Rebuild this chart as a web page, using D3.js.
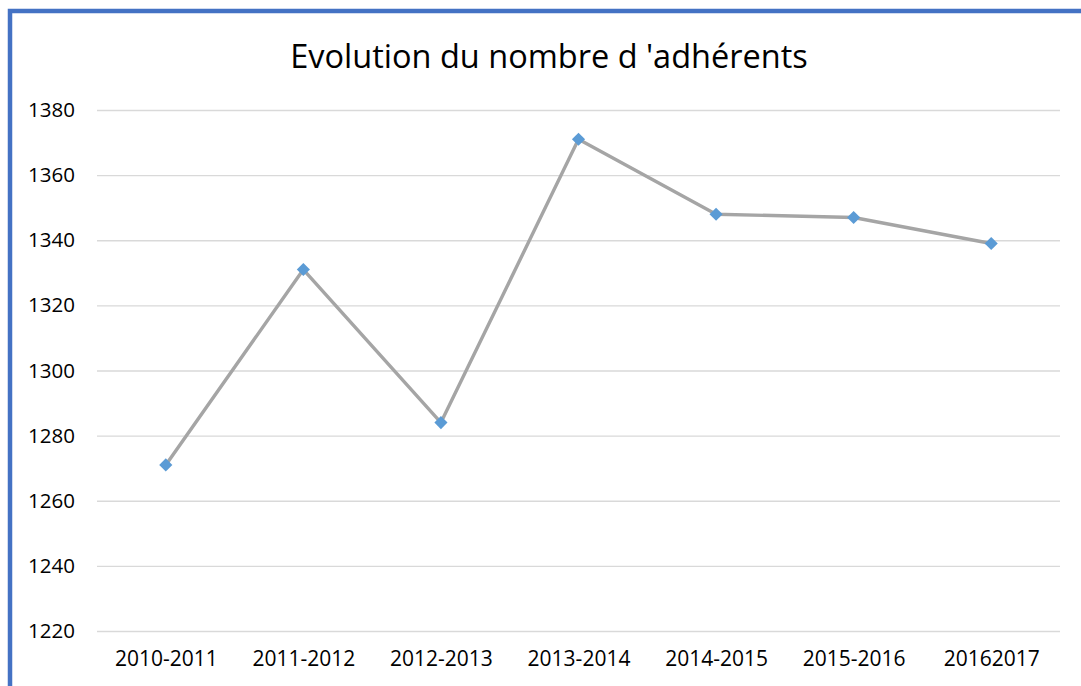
<!DOCTYPE html>
<html>
<head>
<meta charset="utf-8">
<script src="https://cdn.jsdelivr.net/npm/d3@7"></script>
<style>
  body { margin: 0; background: #fff; }
  svg { display: block; }
</style>
</head>
<body>
<svg id="chart" width="1081" height="686"></svg>
<script>
// data
var seasons = ['2010-2011', '2011-2012', '2012-2013', '2013-2014', '2014-2015', '2015-2016', '20162017'];
var members = [1271, 1331, 1284, 1371, 1348, 1347, 1339];
var yTicks = [1220, 1240, 1260, 1280, 1300, 1320, 1340, 1360, 1380];

let svg = d3.select("#chart");
let font = "'Open Sans', sans-serif";

let margin = { top: 110, right: 21, bottom: 55, left: 97 };
let plotWidth = 1081 - margin.left - margin.right;
let plotHeight = 686 - margin.top - margin.bottom;

// frame (blue border top + left)
svg.append("rect")
  .attr("x", 10).attr("y", 11)
  .attr("width", 1100).attr("height", 700)
  .attr("fill", "none")
  .attr("stroke", "#4472c4")
  .attr("stroke-width", 4.5);

let yScale = d3.scaleLinear()
  .domain([1220, 1380])
  .range([plotHeight, 0]);

let xScale = d3.scalePoint()
  .domain(seasons)
  .range([0, plotWidth])
  .padding(0.5);

let plot = svg.append("g")
  .attr("transform", "translate(" + margin.left + "," + margin.top + ")");

// gridlines
plot.append("g")
  .call(d3.axisLeft(yScale).tickValues(yTicks).tickSize(-plotWidth).tickFormat(""))
  .call(g => g.select(".domain").remove())
  .selectAll("line")
  .attr("stroke", "#d9d9d9")
  .attr("stroke-width", 1.3);

// y labels
let yAxis = plot.append("g")
  .call(d3.axisLeft(yScale).tickValues(yTicks).tickSize(0).tickPadding(22).tickFormat(d3.format("d")));
yAxis.select(".domain").remove();
yAxis.selectAll("text")
  .style("font-family", font)
  .style("font-size", "20.5px")
  .attr("fill", "#000");

// x labels
let xAxis = plot.append("g")
  .attr("transform", "translate(0," + plotHeight + ")")
  .call(d3.axisBottom(xScale).tickSize(0).tickPadding(20));
xAxis.select(".domain").remove();
xAxis.selectAll("text")
  .style("font-family", font)
  .style("font-size", "21px")
  .attr("fill", "#000");

// line
let line = d3.line()
  .x((d, i) => xScale(seasons[i]))
  .y(d => yScale(d));

plot.append("path")
  .datum(members)
  .attr("d", line)
  .attr("fill", "none")
  .attr("stroke", "#a5a5a5")
  .attr("stroke-width", 3.4)
  .attr("stroke-linejoin", "round");

// markers
plot.selectAll("path.marker")
  .data(members)
  .enter().append("path")
  .attr("class", "marker")
  .attr("d", d3.symbol().type(d3.symbolDiamond2).size(110))
  .attr("transform", (d, i) => "translate(" + xScale(seasons[i]) + "," + yScale(d) + ")")
  .attr("fill", "#5b9bd5");

// title
svg.append("text")
  .text("Evolution du nombre d 'adhérents")
  .attr("x", 549)
  .attr("y", 68)
  .attr("text-anchor", "middle")
  .style("font-family", font)
  .style("font-size", "32.5px")
  .attr("fill", "#000");
</script>
</body>
</html>
